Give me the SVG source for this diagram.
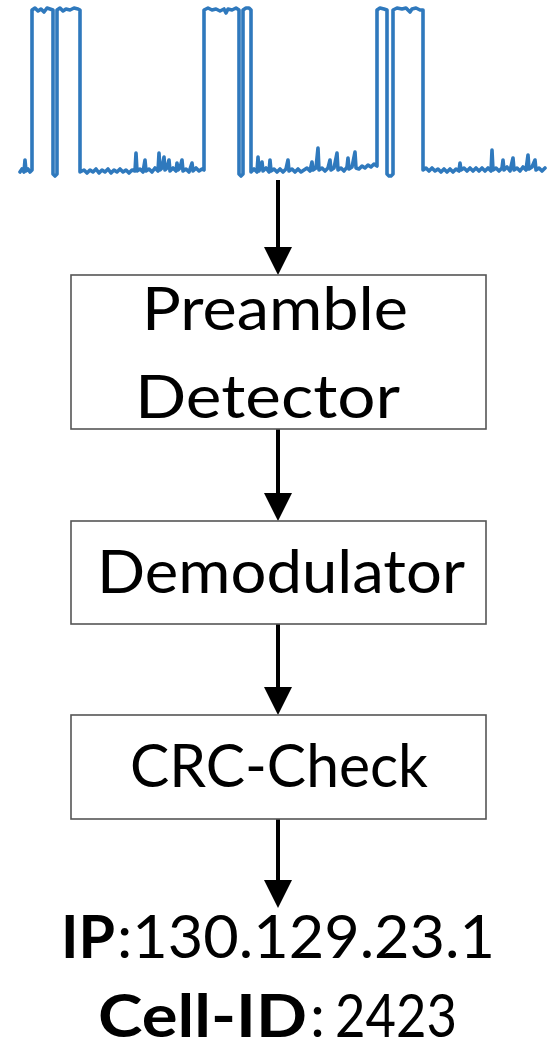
<svg xmlns="http://www.w3.org/2000/svg" width="550" height="1044" viewBox="0 0 550 1044">
  <style>
    .box { fill: #ffffff; stroke: #555555; stroke-width: 1.6; }
    .label { font-family: Lato, "Open Sans", "Liberation Sans", sans-serif; font-size: 60px; fill: #000000; }
    .bold { font-weight: bold; }
    .wire { stroke: #000000; stroke-width: 4; fill: none; marker-end: url(#head); }
    .signal { fill: none; stroke: #2f79bd; stroke-width: 3.6; stroke-linejoin: round; stroke-linecap: round; }
  </style>
  <defs>
    <marker id="head" viewBox="0 0 28 28" refX="18" refY="14" markerWidth="28" markerHeight="28" markerUnits="userSpaceOnUse" orient="auto">
      <path d="M0,0 L28,14 L0,28 Z" fill="#000000"/>
    </marker>
  </defs>

  <rect width="550" height="1044" fill="#ffffff"/>

  <!-- received signal trace -->
  <g id="signal">
    <path class="signal" d="M20,172 L22,169 L24,172 L25,160 L26,171 L28,169 L30,172 L32,170
      L32,10 L35,8 L38,11 L41,9 L44,12 L47,8 L50,9 L53,10 L53,174 L55,176 L57,174
      L57,10 L60,8 L63,11 L66,9 L70,10 L74,8 L78,9 L80,10 L80,172
      L84,170 L87,173 L90,170 L93,172 L96,169 L99,173 L102,170 L105,172 L108,169 L111,173 L114,170 L117,172 L120,169 L123,172 L126,170 L129,173 L132,170 L135,171 L136,153 L137,171 L140,169 L143,172 L145,160 L146,171 L149,169 L152,172 L155,168 L158,171 L159,153 L160,170 L162,168 L164,157 L165,170 L167,168 L169,160 L170,171 L173,168 L176,171 L177,163 L178,170 L180,168 L182,160 L183,171 L186,169 L189,172 L192,163 L193,171 L196,168 L199,171 L202,169 L204,170
      L204,10 L208,8 L212,10 L216,9 L220,11 L224,9 L226,13 L228,9 L232,10 L236,8 L239,10 L239,174 L241,176 L243,174
      L243,10 L246,8 L249,8 L251,10 L251,172
      L254,169 L257,172 L258,157 L259,171 L262,162 L263,171 L266,168 L269,172 L270,160 L271,171 L274,169 L277,172 L280,169 L283,172 L286,169 L288,160 L289,171 L292,169 L295,172 L298,169 L301,172 L304,170 L307,168 L310,171 L312,162 L313,170 L316,168 L318,148 L319,170 L322,168 L325,171 L328,168 L330,160 L331,170 L334,168 L337,153 L338,170 L341,168 L344,171 L347,167 L348,158 L349,169 L352,167 L355,152 L356,168 L359,169 L362,166 L365,168 L368,165 L371,167 L374,164 L377,166
      L377,10 L380,8 L384,9 L387,10 L387,174 L389,176 L391,176 L393,174
      L393,10 L397,8 L402,9 L406,8 L410,12 L412,9 L416,8 L420,10 L423,10 L423,170
      L426,168 L429,171 L432,168 L435,171 L438,169 L441,172 L444,169 L447,172 L450,169 L453,172 L456,169 L459,171 L460,163 L461,170 L464,168 L467,171 L470,168 L473,171 L476,168 L479,171 L482,168 L485,171 L488,168 L491,171 L492,150 L493,170 L496,168 L499,171 L502,168 L503,160 L504,170 L507,167 L510,171 L513,158 L514,170 L517,168 L520,171 L523,167 L526,170 L528,155 L529,169 L532,167 L535,160 L536,170 L539,168 L542,171 L545,168"/>
  </g>

  <!-- connectors -->
  <g id="connectors">
    <line class="wire" x1="278" y1="180" x2="278" y2="265"/>
    <line class="wire" x1="278" y1="429" x2="278" y2="511"/>
    <line class="wire" x1="278" y1="624" x2="278" y2="705"/>
    <line class="wire" x1="278" y1="819" x2="278" y2="898"/>
  </g>

  <g id="preamble-detector">
    <rect class="box" x="71" y="275" width="415" height="154"/>
    <text class="label" x="275" y="330" text-anchor="middle" textLength="266" lengthAdjust="spacingAndGlyphs">Preamble</text>
    <text class="label" x="267.5" y="418" text-anchor="middle" textLength="265" lengthAdjust="spacingAndGlyphs">Detector</text>
  </g>

  <g id="demodulator">
    <rect class="box" x="71" y="521" width="415" height="103"/>
    <text class="label" x="281" y="593" text-anchor="middle" textLength="368" lengthAdjust="spacingAndGlyphs">Demodulator</text>
  </g>

  <g id="crc-check">
    <rect class="box" x="71" y="715" width="415" height="104"/>
    <text class="label" x="279" y="787" text-anchor="middle" textLength="298" lengthAdjust="spacingAndGlyphs">CRC-Check</text>
  </g>

  <g id="result">
    <text class="label" y="958"><tspan class="bold" x="61" textLength="54" lengthAdjust="spacingAndGlyphs">IP</tspan><tspan x="117" textLength="378" lengthAdjust="spacingAndGlyphs">:130.129.23.1</tspan></text>
    <text class="label" y="1037"><tspan class="bold" x="98" textLength="209" lengthAdjust="spacingAndGlyphs">Cell-ID</tspan><tspan x="310">:</tspan><tspan x="335" textLength="122" lengthAdjust="spacingAndGlyphs">2423</tspan></text>
  </g>
</svg>
